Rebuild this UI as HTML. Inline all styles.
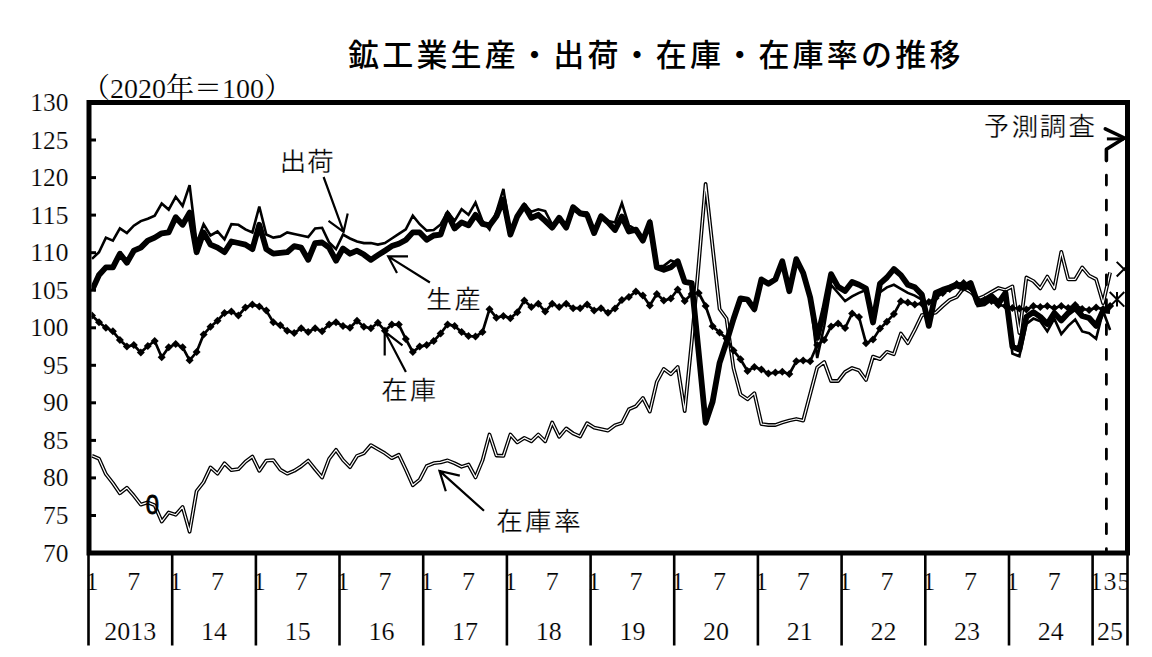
<!DOCTYPE html>
<html><head><meta charset="utf-8"><style>
html,body{margin:0;padding:0;background:#fff;}
body{width:1152px;height:657px;overflow:hidden;}
svg{display:block;}
.num{font-family:"Liberation Serif","Noto Serif CJK SC",serif;font-size:26px;fill:#000;stroke:#fff;stroke-width:0.2px;}
.unit{font-family:"Liberation Serif","Noto Serif CJK SC",serif;font-size:28px;fill:#000;}
.th{stroke:#fff;stroke-width:0.2px;}
.lab{font-family:"IPAGothic","Noto Sans CJK JP",sans-serif;font-size:27px;fill:#000;stroke:#fff;stroke-width:0.3px;}
.zero{font-family:"Liberation Sans",sans-serif;font-size:27px;fill:#000;stroke:#000;stroke-width:0.8px;}
.title{font-family:"Noto Sans CJK JP",sans-serif;font-size:31px;font-weight:500;letter-spacing:3.2px;fill:#000;}
</style></head><body>
<svg width="1152" height="657" viewBox="0 0 1152 657">
<text class="unit" x="82" y="98">（<tspan class="th">2020</tspan>年＝<tspan class="th">100</tspan>）</text>
<rect x="89" y="102.5" width="1038.5" height="450.5" fill="none" stroke="#000" stroke-width="5"/>
<line x1="91" y1="515.5" x2="96" y2="515.5" stroke="#000" stroke-width="3"/>
<line x1="91" y1="477.9" x2="96" y2="477.9" stroke="#000" stroke-width="3"/>
<line x1="91" y1="440.4" x2="96" y2="440.4" stroke="#000" stroke-width="3"/>
<line x1="91" y1="402.8" x2="96" y2="402.8" stroke="#000" stroke-width="3"/>
<line x1="91" y1="365.3" x2="96" y2="365.3" stroke="#000" stroke-width="3"/>
<line x1="91" y1="327.8" x2="96" y2="327.8" stroke="#000" stroke-width="3"/>
<line x1="91" y1="290.2" x2="96" y2="290.2" stroke="#000" stroke-width="3"/>
<line x1="91" y1="252.7" x2="96" y2="252.7" stroke="#000" stroke-width="3"/>
<line x1="91" y1="215.1" x2="96" y2="215.1" stroke="#000" stroke-width="3"/>
<line x1="91" y1="177.6" x2="96" y2="177.6" stroke="#000" stroke-width="3"/>
<line x1="91" y1="140.0" x2="96" y2="140.0" stroke="#000" stroke-width="3"/>
<text class="num" x="68.5" y="561.5" text-anchor="end" textLength="25.5" lengthAdjust="spacingAndGlyphs">70</text>
<text class="num" x="68.5" y="524.0" text-anchor="end" textLength="25.5" lengthAdjust="spacingAndGlyphs">75</text>
<text class="num" x="68.5" y="486.4" text-anchor="end" textLength="25.5" lengthAdjust="spacingAndGlyphs">80</text>
<text class="num" x="68.5" y="448.9" text-anchor="end" textLength="25.5" lengthAdjust="spacingAndGlyphs">85</text>
<text class="num" x="68.5" y="411.3" text-anchor="end" textLength="25.5" lengthAdjust="spacingAndGlyphs">90</text>
<text class="num" x="68.5" y="373.8" text-anchor="end" textLength="25.5" lengthAdjust="spacingAndGlyphs">95</text>
<text class="num" x="68.5" y="336.2" text-anchor="end" textLength="38.2" lengthAdjust="spacingAndGlyphs">100</text>
<text class="num" x="68.5" y="298.7" text-anchor="end" textLength="38.2" lengthAdjust="spacingAndGlyphs">105</text>
<text class="num" x="68.5" y="261.2" text-anchor="end" textLength="38.2" lengthAdjust="spacingAndGlyphs">110</text>
<text class="num" x="68.5" y="223.6" text-anchor="end" textLength="38.2" lengthAdjust="spacingAndGlyphs">115</text>
<text class="num" x="68.5" y="186.1" text-anchor="end" textLength="38.2" lengthAdjust="spacingAndGlyphs">120</text>
<text class="num" x="68.5" y="148.5" text-anchor="end" textLength="38.2" lengthAdjust="spacingAndGlyphs">125</text>
<text class="num" x="68.5" y="111.0" text-anchor="end" textLength="38.2" lengthAdjust="spacingAndGlyphs">130</text>
<defs><clipPath id="ca"><rect x="0" y="555" width="1127.5" height="102"/></clipPath></defs><g clip-path="url(#ca)">
<text class="num" x="92.0" y="589.5" text-anchor="middle">1</text>
<text class="num" x="133.8" y="589.5" text-anchor="middle">7</text>
<text class="num" x="175.7" y="589.5" text-anchor="middle">1</text>
<text class="num" x="217.5" y="589.5" text-anchor="middle">7</text>
<text class="num" x="259.3" y="589.5" text-anchor="middle">1</text>
<text class="num" x="301.2" y="589.5" text-anchor="middle">7</text>
<text class="num" x="343.0" y="589.5" text-anchor="middle">1</text>
<text class="num" x="384.9" y="589.5" text-anchor="middle">7</text>
<text class="num" x="426.7" y="589.5" text-anchor="middle">1</text>
<text class="num" x="468.5" y="589.5" text-anchor="middle">7</text>
<text class="num" x="510.4" y="589.5" text-anchor="middle">1</text>
<text class="num" x="552.2" y="589.5" text-anchor="middle">7</text>
<text class="num" x="594.1" y="589.5" text-anchor="middle">1</text>
<text class="num" x="635.9" y="589.5" text-anchor="middle">7</text>
<text class="num" x="677.7" y="589.5" text-anchor="middle">1</text>
<text class="num" x="719.6" y="589.5" text-anchor="middle">7</text>
<text class="num" x="761.4" y="589.5" text-anchor="middle">1</text>
<text class="num" x="803.2" y="589.5" text-anchor="middle">7</text>
<text class="num" x="845.1" y="589.5" text-anchor="middle">1</text>
<text class="num" x="886.9" y="589.5" text-anchor="middle">7</text>
<text class="num" x="928.8" y="589.5" text-anchor="middle">1</text>
<text class="num" x="970.6" y="589.5" text-anchor="middle">7</text>
<text class="num" x="1012.4" y="589.5" text-anchor="middle">1</text>
<text class="num" x="1054.3" y="589.5" text-anchor="middle">7</text>
<text class="num" x="1096.1" y="589.5" text-anchor="middle">1</text>
<text class="num" x="1110.1" y="589.5" text-anchor="middle">3</text>
<text class="num" x="1124.0" y="589.5" text-anchor="middle">5</text>
<text class="num" x="130.3" y="639.5" text-anchor="middle">2013</text>
<text class="num" x="214.0" y="639.5" text-anchor="middle">14</text>
<text class="num" x="297.7" y="639.5" text-anchor="middle">15</text>
<text class="num" x="381.4" y="639.5" text-anchor="middle">16</text>
<text class="num" x="465.1" y="639.5" text-anchor="middle">17</text>
<text class="num" x="548.7" y="639.5" text-anchor="middle">18</text>
<text class="num" x="632.4" y="639.5" text-anchor="middle">19</text>
<text class="num" x="716.1" y="639.5" text-anchor="middle">20</text>
<text class="num" x="799.8" y="639.5" text-anchor="middle">21</text>
<text class="num" x="883.4" y="639.5" text-anchor="middle">22</text>
<text class="num" x="967.1" y="639.5" text-anchor="middle">23</text>
<text class="num" x="1050.8" y="639.5" text-anchor="middle">24</text>
<text class="num" x="1110.1" y="639.5" text-anchor="middle">25</text>
</g>
<line x1="88.5" y1="553" x2="88.5" y2="645.5" stroke="#000" stroke-width="2.6"/>
<line x1="172.2" y1="553" x2="172.2" y2="645.5" stroke="#000" stroke-width="2.6"/>
<line x1="255.9" y1="553" x2="255.9" y2="645.5" stroke="#000" stroke-width="2.6"/>
<line x1="339.5" y1="553" x2="339.5" y2="645.5" stroke="#000" stroke-width="2.6"/>
<line x1="423.2" y1="553" x2="423.2" y2="645.5" stroke="#000" stroke-width="2.6"/>
<line x1="506.9" y1="553" x2="506.9" y2="645.5" stroke="#000" stroke-width="2.6"/>
<line x1="590.6" y1="553" x2="590.6" y2="645.5" stroke="#000" stroke-width="2.6"/>
<line x1="674.2" y1="553" x2="674.2" y2="645.5" stroke="#000" stroke-width="2.6"/>
<line x1="757.9" y1="553" x2="757.9" y2="645.5" stroke="#000" stroke-width="2.6"/>
<line x1="841.6" y1="553" x2="841.6" y2="645.5" stroke="#000" stroke-width="2.6"/>
<line x1="925.3" y1="553" x2="925.3" y2="645.5" stroke="#000" stroke-width="2.6"/>
<line x1="1009.0" y1="553" x2="1009.0" y2="645.5" stroke="#000" stroke-width="2.6"/>
<line x1="1092.6" y1="553" x2="1092.6" y2="645.5" stroke="#000" stroke-width="2.6"/>
<line x1="1127.5" y1="553" x2="1127.5" y2="645.5" stroke="#000" stroke-width="2.6"/>
<defs><clipPath id="pa"><rect x="91.5" y="105" width="1033.5" height="445.5"/></clipPath></defs><g clip-path="url(#pa)">
<polyline points="92.0,455.7 99.0,458.8 105.9,474.2 112.9,483.2 119.9,493.3 126.9,487.7 133.8,495.6 140.8,504.6 147.8,502.4 154.7,505.3 161.7,521.6 168.7,512.5 175.7,514.8 182.6,506.9 189.6,531.7 196.6,491.1 203.6,482.1 210.5,467.4 217.5,473.7 224.5,463.3 231.4,470.1 238.4,469.2 245.4,461.8 252.4,456.6 259.3,470.8 266.3,460.6 273.3,460.2 280.3,469.7 287.2,473.7 294.2,470.8 301.2,466.3 308.2,460.6 315.1,469.2 322.1,477.5 329.1,458.8 336.0,449.8 343.0,460.0 350.0,467.2 357.0,455.9 363.9,453.2 370.9,445.1 377.9,449.2 384.9,453.2 391.8,458.2 398.8,454.8 405.8,469.5 412.8,485.3 419.7,479.6 426.7,466.1 433.7,463.2 440.6,462.3 447.6,460.4 454.6,463.2 461.6,466.8 468.5,464.5 475.5,477.4 482.5,460.4 489.5,434.5 496.4,455.5 503.4,455.9 510.4,434.5 517.3,442.4 524.3,437.9 531.3,441.3 538.3,434.5 545.2,441.3 552.2,422.5 559.2,436.8 566.2,428.4 573.1,433.4 580.1,436.5 587.1,423.2 594.1,427.6 601.0,429.1 608.0,430.6 615.0,425.3 621.9,423.0 628.9,409.3 635.9,406.2 642.9,397.9 649.8,411.6 656.8,381.9 663.8,368.9 670.8,374.3 677.7,367.0 684.7,411.0 691.7,342.0 698.7,264.0 705.6,184.0 712.6,247.0 719.6,309.0 726.5,318.5 733.5,368.0 740.5,394.5 747.5,399.3 754.4,393.2 761.4,424.0 768.4,425.0 775.4,425.0 782.3,422.5 789.3,420.5 796.3,419.0 803.2,420.6 810.2,394.0 817.2,367.4 824.2,362.0 831.1,381.0 838.1,381.0 845.1,372.0 852.1,368.0 859.0,370.4 866.0,380.0 873.0,356.6 880.0,359.1 886.9,351.8 893.9,354.2 900.9,333.5 907.8,343.2 914.8,329.9 921.8,315.2 928.8,314.0 935.7,312.6 942.7,306.0 949.7,300.0 956.7,297.0 963.6,288.0 970.6,292.0 977.6,299.0 984.6,296.0 991.5,292.0 998.5,288.0 1005.5,290.0 1012.4,286.4 1019.4,333.0 1026.4,277.5 1033.4,281.1 1040.3,288.4 1047.3,276.6 1054.3,288.4 1061.3,251.9 1068.2,279.3 1075.2,279.3 1082.2,267.4 1089.1,275.6 1096.1,279.3 1103.1,303.1 1110.1,272.5" fill="none" stroke="#000" stroke-width="3.8" stroke-linejoin="round"/>
<polyline points="92.0,455.7 99.0,458.8 105.9,474.2 112.9,483.2 119.9,493.3 126.9,487.7 133.8,495.6 140.8,504.6 147.8,502.4 154.7,505.3 161.7,521.6 168.7,512.5 175.7,514.8 182.6,506.9 189.6,531.7 196.6,491.1 203.6,482.1 210.5,467.4 217.5,473.7 224.5,463.3 231.4,470.1 238.4,469.2 245.4,461.8 252.4,456.6 259.3,470.8 266.3,460.6 273.3,460.2 280.3,469.7 287.2,473.7 294.2,470.8 301.2,466.3 308.2,460.6 315.1,469.2 322.1,477.5 329.1,458.8 336.0,449.8 343.0,460.0 350.0,467.2 357.0,455.9 363.9,453.2 370.9,445.1 377.9,449.2 384.9,453.2 391.8,458.2 398.8,454.8 405.8,469.5 412.8,485.3 419.7,479.6 426.7,466.1 433.7,463.2 440.6,462.3 447.6,460.4 454.6,463.2 461.6,466.8 468.5,464.5 475.5,477.4 482.5,460.4 489.5,434.5 496.4,455.5 503.4,455.9 510.4,434.5 517.3,442.4 524.3,437.9 531.3,441.3 538.3,434.5 545.2,441.3 552.2,422.5 559.2,436.8 566.2,428.4 573.1,433.4 580.1,436.5 587.1,423.2 594.1,427.6 601.0,429.1 608.0,430.6 615.0,425.3 621.9,423.0 628.9,409.3 635.9,406.2 642.9,397.9 649.8,411.6 656.8,381.9 663.8,368.9 670.8,374.3 677.7,367.0 684.7,411.0 691.7,342.0 698.7,264.0 705.6,184.0 712.6,247.0 719.6,309.0 726.5,318.5 733.5,368.0 740.5,394.5 747.5,399.3 754.4,393.2 761.4,424.0 768.4,425.0 775.4,425.0 782.3,422.5 789.3,420.5 796.3,419.0 803.2,420.6 810.2,394.0 817.2,367.4 824.2,362.0 831.1,381.0 838.1,381.0 845.1,372.0 852.1,368.0 859.0,370.4 866.0,380.0 873.0,356.6 880.0,359.1 886.9,351.8 893.9,354.2 900.9,333.5 907.8,343.2 914.8,329.9 921.8,315.2 928.8,314.0 935.7,312.6 942.7,306.0 949.7,300.0 956.7,297.0 963.6,288.0 970.6,292.0 977.6,299.0 984.6,296.0 991.5,292.0 998.5,288.0 1005.5,290.0 1012.4,286.4 1019.4,333.0 1026.4,277.5 1033.4,281.1 1040.3,288.4 1047.3,276.6 1054.3,288.4 1061.3,251.9 1068.2,279.3 1075.2,279.3 1082.2,267.4 1089.1,275.6 1096.1,279.3 1103.1,303.1 1110.1,272.5" fill="none" stroke="#fff" stroke-width="1.2" stroke-linejoin="round"/>
<polyline points="92.0,315.5 99.0,322.2 105.9,327.7 112.9,331.3 119.9,339.9 126.9,346.6 133.8,345.0 140.8,352.6 147.8,346.0 154.7,341.0 161.7,357.2 168.7,347.2 175.7,344.1 182.6,347.2 189.6,360.3 196.6,352.0 203.6,334.4 210.5,326.8 217.5,320.7 224.5,313.0 231.4,311.6 238.4,315.5 245.4,307.6 252.4,304.6 259.3,306.4 266.3,310.6 273.3,322.2 280.3,325.3 287.2,330.7 294.2,332.9 301.2,328.3 308.2,332.0 315.1,328.3 322.1,331.3 329.1,324.6 336.0,322.2 343.0,325.9 350.0,327.7 357.0,320.7 363.9,326.8 370.9,328.3 377.9,322.8 384.9,330.7 391.8,324.6 398.8,324.6 405.8,339.0 412.8,352.0 419.7,346.6 426.7,345.1 433.7,341.1 440.6,333.5 447.6,324.4 454.6,325.9 461.6,332.0 468.5,336.0 475.5,336.6 482.5,332.0 489.5,309.2 496.4,317.7 503.4,315.9 510.4,318.3 517.3,312.2 524.3,300.6 531.3,307.1 538.3,303.7 545.2,311.6 552.2,303.7 559.2,307.1 566.2,303.7 573.1,308.2 580.1,308.2 587.1,304.4 594.1,310.5 601.0,308.2 608.0,312.8 615.0,308.6 621.9,300.0 628.9,297.0 635.9,291.5 642.9,295.5 649.8,305.5 656.8,294.0 663.8,300.6 670.8,298.5 677.7,289.5 684.7,301.0 691.7,294.0 698.7,293.0 705.6,306.0 712.6,326.3 719.6,332.4 726.5,338.5 733.5,350.6 740.5,359.2 747.5,371.0 754.4,367.0 761.4,369.5 768.4,373.5 775.4,372.6 782.3,371.8 789.3,374.0 796.3,361.3 803.2,360.5 810.2,361.3 817.2,345.0 824.2,340.0 831.1,326.4 838.1,323.4 845.1,328.0 852.1,313.5 859.0,317.0 866.0,343.2 873.0,339.6 880.0,328.6 886.9,321.7 893.9,314.1 900.9,301.3 907.8,302.6 914.8,304.6 921.8,303.5 928.8,302.0 935.7,298.0 942.7,293.0 949.7,289.0 956.7,284.0 963.6,283.0 970.6,288.0 977.6,300.0 984.6,300.0 991.5,301.0 998.5,305.0 1005.5,306.0 1012.4,308.0 1019.4,308.5 1026.4,309.5 1033.4,306.0 1040.3,307.0 1047.3,306.0 1054.3,308.0 1061.3,306.0 1068.2,308.0 1075.2,304.9 1082.2,309.0 1089.1,310.0 1096.1,307.6 1103.1,309.0 1110.1,306.0" fill="none" stroke="#000" stroke-width="2.7" stroke-linejoin="round"/>
<path d="M92.0 311.5L96.0 315.5L92.0 319.5L88.0 315.5Z"/>
<path d="M99.0 318.2L103.0 322.2L99.0 326.2L95.0 322.2Z"/>
<path d="M105.9 323.7L109.9 327.7L105.9 331.7L101.9 327.7Z"/>
<path d="M112.9 327.3L116.9 331.3L112.9 335.3L108.9 331.3Z"/>
<path d="M119.9 335.9L123.9 339.9L119.9 343.9L115.9 339.9Z"/>
<path d="M126.9 342.6L130.9 346.6L126.9 350.6L122.9 346.6Z"/>
<path d="M133.8 341.0L137.8 345.0L133.8 349.0L129.8 345.0Z"/>
<path d="M140.8 348.6L144.8 352.6L140.8 356.6L136.8 352.6Z"/>
<path d="M147.8 342.0L151.8 346.0L147.8 350.0L143.8 346.0Z"/>
<path d="M154.7 337.0L158.7 341.0L154.7 345.0L150.7 341.0Z"/>
<path d="M161.7 353.2L165.7 357.2L161.7 361.2L157.7 357.2Z"/>
<path d="M168.7 343.2L172.7 347.2L168.7 351.2L164.7 347.2Z"/>
<path d="M175.7 340.1L179.7 344.1L175.7 348.1L171.7 344.1Z"/>
<path d="M182.6 343.2L186.6 347.2L182.6 351.2L178.6 347.2Z"/>
<path d="M189.6 356.3L193.6 360.3L189.6 364.3L185.6 360.3Z"/>
<path d="M196.6 348.0L200.6 352.0L196.6 356.0L192.6 352.0Z"/>
<path d="M203.6 330.4L207.6 334.4L203.6 338.4L199.6 334.4Z"/>
<path d="M210.5 322.8L214.5 326.8L210.5 330.8L206.5 326.8Z"/>
<path d="M217.5 316.7L221.5 320.7L217.5 324.7L213.5 320.7Z"/>
<path d="M224.5 309.0L228.5 313.0L224.5 317.0L220.5 313.0Z"/>
<path d="M231.4 307.6L235.4 311.6L231.4 315.6L227.4 311.6Z"/>
<path d="M238.4 311.5L242.4 315.5L238.4 319.5L234.4 315.5Z"/>
<path d="M245.4 303.6L249.4 307.6L245.4 311.6L241.4 307.6Z"/>
<path d="M252.4 300.6L256.4 304.6L252.4 308.6L248.4 304.6Z"/>
<path d="M259.3 302.4L263.3 306.4L259.3 310.4L255.3 306.4Z"/>
<path d="M266.3 306.6L270.3 310.6L266.3 314.6L262.3 310.6Z"/>
<path d="M273.3 318.2L277.3 322.2L273.3 326.2L269.3 322.2Z"/>
<path d="M280.3 321.3L284.3 325.3L280.3 329.3L276.3 325.3Z"/>
<path d="M287.2 326.7L291.2 330.7L287.2 334.7L283.2 330.7Z"/>
<path d="M294.2 328.9L298.2 332.9L294.2 336.9L290.2 332.9Z"/>
<path d="M301.2 324.3L305.2 328.3L301.2 332.3L297.2 328.3Z"/>
<path d="M308.2 328.0L312.2 332.0L308.2 336.0L304.2 332.0Z"/>
<path d="M315.1 324.3L319.1 328.3L315.1 332.3L311.1 328.3Z"/>
<path d="M322.1 327.3L326.1 331.3L322.1 335.3L318.1 331.3Z"/>
<path d="M329.1 320.6L333.1 324.6L329.1 328.6L325.1 324.6Z"/>
<path d="M336.0 318.2L340.0 322.2L336.0 326.2L332.0 322.2Z"/>
<path d="M343.0 321.9L347.0 325.9L343.0 329.9L339.0 325.9Z"/>
<path d="M350.0 323.7L354.0 327.7L350.0 331.7L346.0 327.7Z"/>
<path d="M357.0 316.7L361.0 320.7L357.0 324.7L353.0 320.7Z"/>
<path d="M363.9 322.8L367.9 326.8L363.9 330.8L359.9 326.8Z"/>
<path d="M370.9 324.3L374.9 328.3L370.9 332.3L366.9 328.3Z"/>
<path d="M377.9 318.8L381.9 322.8L377.9 326.8L373.9 322.8Z"/>
<path d="M384.9 326.7L388.9 330.7L384.9 334.7L380.9 330.7Z"/>
<path d="M391.8 320.6L395.8 324.6L391.8 328.6L387.8 324.6Z"/>
<path d="M398.8 320.6L402.8 324.6L398.8 328.6L394.8 324.6Z"/>
<path d="M405.8 335.0L409.8 339.0L405.8 343.0L401.8 339.0Z"/>
<path d="M412.8 348.0L416.8 352.0L412.8 356.0L408.8 352.0Z"/>
<path d="M419.7 342.6L423.7 346.6L419.7 350.6L415.7 346.6Z"/>
<path d="M426.7 341.1L430.7 345.1L426.7 349.1L422.7 345.1Z"/>
<path d="M433.7 337.1L437.7 341.1L433.7 345.1L429.7 341.1Z"/>
<path d="M440.6 329.5L444.6 333.5L440.6 337.5L436.6 333.5Z"/>
<path d="M447.6 320.4L451.6 324.4L447.6 328.4L443.6 324.4Z"/>
<path d="M454.6 321.9L458.6 325.9L454.6 329.9L450.6 325.9Z"/>
<path d="M461.6 328.0L465.6 332.0L461.6 336.0L457.6 332.0Z"/>
<path d="M468.5 332.0L472.5 336.0L468.5 340.0L464.5 336.0Z"/>
<path d="M475.5 332.6L479.5 336.6L475.5 340.6L471.5 336.6Z"/>
<path d="M482.5 328.0L486.5 332.0L482.5 336.0L478.5 332.0Z"/>
<path d="M489.5 305.2L493.5 309.2L489.5 313.2L485.5 309.2Z"/>
<path d="M496.4 313.7L500.4 317.7L496.4 321.7L492.4 317.7Z"/>
<path d="M503.4 311.9L507.4 315.9L503.4 319.9L499.4 315.9Z"/>
<path d="M510.4 314.3L514.4 318.3L510.4 322.3L506.4 318.3Z"/>
<path d="M517.3 308.2L521.3 312.2L517.3 316.2L513.3 312.2Z"/>
<path d="M524.3 296.6L528.3 300.6L524.3 304.6L520.3 300.6Z"/>
<path d="M531.3 303.1L535.3 307.1L531.3 311.1L527.3 307.1Z"/>
<path d="M538.3 299.7L542.3 303.7L538.3 307.7L534.3 303.7Z"/>
<path d="M545.2 307.6L549.2 311.6L545.2 315.6L541.2 311.6Z"/>
<path d="M552.2 299.7L556.2 303.7L552.2 307.7L548.2 303.7Z"/>
<path d="M559.2 303.1L563.2 307.1L559.2 311.1L555.2 307.1Z"/>
<path d="M566.2 299.7L570.2 303.7L566.2 307.7L562.2 303.7Z"/>
<path d="M573.1 304.2L577.1 308.2L573.1 312.2L569.1 308.2Z"/>
<path d="M580.1 304.2L584.1 308.2L580.1 312.2L576.1 308.2Z"/>
<path d="M587.1 300.4L591.1 304.4L587.1 308.4L583.1 304.4Z"/>
<path d="M594.1 306.5L598.1 310.5L594.1 314.5L590.1 310.5Z"/>
<path d="M601.0 304.2L605.0 308.2L601.0 312.2L597.0 308.2Z"/>
<path d="M608.0 308.8L612.0 312.8L608.0 316.8L604.0 312.8Z"/>
<path d="M615.0 304.6L619.0 308.6L615.0 312.6L611.0 308.6Z"/>
<path d="M621.9 296.0L625.9 300.0L621.9 304.0L617.9 300.0Z"/>
<path d="M628.9 293.0L632.9 297.0L628.9 301.0L624.9 297.0Z"/>
<path d="M635.9 287.5L639.9 291.5L635.9 295.5L631.9 291.5Z"/>
<path d="M642.9 291.5L646.9 295.5L642.9 299.5L638.9 295.5Z"/>
<path d="M649.8 301.5L653.8 305.5L649.8 309.5L645.8 305.5Z"/>
<path d="M656.8 290.0L660.8 294.0L656.8 298.0L652.8 294.0Z"/>
<path d="M663.8 296.6L667.8 300.6L663.8 304.6L659.8 300.6Z"/>
<path d="M670.8 294.5L674.8 298.5L670.8 302.5L666.8 298.5Z"/>
<path d="M677.7 285.5L681.7 289.5L677.7 293.5L673.7 289.5Z"/>
<path d="M684.7 297.0L688.7 301.0L684.7 305.0L680.7 301.0Z"/>
<path d="M691.7 290.0L695.7 294.0L691.7 298.0L687.7 294.0Z"/>
<path d="M698.7 289.0L702.7 293.0L698.7 297.0L694.7 293.0Z"/>
<path d="M705.6 302.0L709.6 306.0L705.6 310.0L701.6 306.0Z"/>
<path d="M712.6 322.3L716.6 326.3L712.6 330.3L708.6 326.3Z"/>
<path d="M719.6 328.4L723.6 332.4L719.6 336.4L715.6 332.4Z"/>
<path d="M726.5 334.5L730.5 338.5L726.5 342.5L722.5 338.5Z"/>
<path d="M733.5 346.6L737.5 350.6L733.5 354.6L729.5 350.6Z"/>
<path d="M740.5 355.2L744.5 359.2L740.5 363.2L736.5 359.2Z"/>
<path d="M747.5 367.0L751.5 371.0L747.5 375.0L743.5 371.0Z"/>
<path d="M754.4 363.0L758.4 367.0L754.4 371.0L750.4 367.0Z"/>
<path d="M761.4 365.5L765.4 369.5L761.4 373.5L757.4 369.5Z"/>
<path d="M768.4 369.5L772.4 373.5L768.4 377.5L764.4 373.5Z"/>
<path d="M775.4 368.6L779.4 372.6L775.4 376.6L771.4 372.6Z"/>
<path d="M782.3 367.8L786.3 371.8L782.3 375.8L778.3 371.8Z"/>
<path d="M789.3 370.0L793.3 374.0L789.3 378.0L785.3 374.0Z"/>
<path d="M796.3 357.3L800.3 361.3L796.3 365.3L792.3 361.3Z"/>
<path d="M803.2 356.5L807.2 360.5L803.2 364.5L799.2 360.5Z"/>
<path d="M810.2 357.3L814.2 361.3L810.2 365.3L806.2 361.3Z"/>
<path d="M817.2 341.0L821.2 345.0L817.2 349.0L813.2 345.0Z"/>
<path d="M824.2 336.0L828.2 340.0L824.2 344.0L820.2 340.0Z"/>
<path d="M831.1 322.4L835.1 326.4L831.1 330.4L827.1 326.4Z"/>
<path d="M838.1 319.4L842.1 323.4L838.1 327.4L834.1 323.4Z"/>
<path d="M845.1 324.0L849.1 328.0L845.1 332.0L841.1 328.0Z"/>
<path d="M852.1 309.5L856.1 313.5L852.1 317.5L848.1 313.5Z"/>
<path d="M859.0 313.0L863.0 317.0L859.0 321.0L855.0 317.0Z"/>
<path d="M866.0 339.2L870.0 343.2L866.0 347.2L862.0 343.2Z"/>
<path d="M873.0 335.6L877.0 339.6L873.0 343.6L869.0 339.6Z"/>
<path d="M880.0 324.6L884.0 328.6L880.0 332.6L876.0 328.6Z"/>
<path d="M886.9 317.7L890.9 321.7L886.9 325.7L882.9 321.7Z"/>
<path d="M893.9 310.1L897.9 314.1L893.9 318.1L889.9 314.1Z"/>
<path d="M900.9 297.3L904.9 301.3L900.9 305.3L896.9 301.3Z"/>
<path d="M907.8 298.6L911.8 302.6L907.8 306.6L903.8 302.6Z"/>
<path d="M914.8 300.6L918.8 304.6L914.8 308.6L910.8 304.6Z"/>
<path d="M921.8 299.5L925.8 303.5L921.8 307.5L917.8 303.5Z"/>
<path d="M928.8 298.0L932.8 302.0L928.8 306.0L924.8 302.0Z"/>
<path d="M935.7 294.0L939.7 298.0L935.7 302.0L931.7 298.0Z"/>
<path d="M942.7 289.0L946.7 293.0L942.7 297.0L938.7 293.0Z"/>
<path d="M949.7 285.0L953.7 289.0L949.7 293.0L945.7 289.0Z"/>
<path d="M956.7 280.0L960.7 284.0L956.7 288.0L952.7 284.0Z"/>
<path d="M963.6 279.0L967.6 283.0L963.6 287.0L959.6 283.0Z"/>
<path d="M970.6 284.0L974.6 288.0L970.6 292.0L966.6 288.0Z"/>
<path d="M977.6 296.0L981.6 300.0L977.6 304.0L973.6 300.0Z"/>
<path d="M984.6 296.0L988.6 300.0L984.6 304.0L980.6 300.0Z"/>
<path d="M991.5 297.0L995.5 301.0L991.5 305.0L987.5 301.0Z"/>
<path d="M998.5 301.0L1002.5 305.0L998.5 309.0L994.5 305.0Z"/>
<path d="M1005.5 302.0L1009.5 306.0L1005.5 310.0L1001.5 306.0Z"/>
<path d="M1012.4 304.0L1016.4 308.0L1012.4 312.0L1008.4 308.0Z"/>
<path d="M1019.4 304.5L1023.4 308.5L1019.4 312.5L1015.4 308.5Z"/>
<path d="M1026.4 305.5L1030.4 309.5L1026.4 313.5L1022.4 309.5Z"/>
<path d="M1033.4 302.0L1037.4 306.0L1033.4 310.0L1029.4 306.0Z"/>
<path d="M1040.3 303.0L1044.3 307.0L1040.3 311.0L1036.3 307.0Z"/>
<path d="M1047.3 302.0L1051.3 306.0L1047.3 310.0L1043.3 306.0Z"/>
<path d="M1054.3 304.0L1058.3 308.0L1054.3 312.0L1050.3 308.0Z"/>
<path d="M1061.3 302.0L1065.3 306.0L1061.3 310.0L1057.3 306.0Z"/>
<path d="M1068.2 304.0L1072.2 308.0L1068.2 312.0L1064.2 308.0Z"/>
<path d="M1075.2 300.9L1079.2 304.9L1075.2 308.9L1071.2 304.9Z"/>
<path d="M1082.2 305.0L1086.2 309.0L1082.2 313.0L1078.2 309.0Z"/>
<path d="M1089.1 306.0L1093.1 310.0L1089.1 314.0L1085.1 310.0Z"/>
<path d="M1096.1 303.6L1100.1 307.6L1096.1 311.6L1092.1 307.6Z"/>
<path d="M1103.1 305.0L1107.1 309.0L1103.1 313.0L1099.1 309.0Z"/>
<path d="M1110.1 302.0L1114.1 306.0L1110.1 310.0L1106.1 306.0Z"/>
<polyline points="92.0,258.9 99.0,252.2 105.9,237.6 112.9,240.6 119.9,228.4 126.9,233.0 133.8,225.7 140.8,221.1 147.8,218.7 154.7,215.7 161.7,203.5 168.7,209.6 175.7,196.8 182.6,205.9 189.6,185.2 196.6,243.1 203.6,224.2 210.5,235.4 217.5,231.5 224.5,239.4 231.4,224.2 238.4,224.8 245.4,229.4 252.4,232.4 259.3,206.5 266.3,234.5 273.3,237.6 280.3,236.4 287.2,232.4 294.2,233.9 301.2,235.4 308.2,237.0 315.1,228.4 322.1,227.8 329.1,242.5 336.0,249.1 343.0,234.5 350.0,238.5 357.0,241.5 363.9,243.1 370.9,243.1 377.9,244.6 384.9,243.1 391.8,238.5 398.8,233.9 405.8,229.4 412.8,215.7 419.7,224.2 426.7,230.6 433.7,230.0 440.6,224.5 447.6,211.8 454.6,220.9 461.6,209.3 468.5,214.8 475.5,202.6 482.5,220.9 489.5,229.4 496.4,211.8 503.4,188.9 510.4,232.5 517.3,218.4 524.3,204.1 531.3,211.8 538.3,209.3 545.2,211.1 552.2,224.5 559.2,218.4 566.2,225.4 573.1,206.3 580.1,211.8 587.1,212.4 594.1,230.0 601.0,215.4 608.0,220.9 615.0,222.4 621.9,203.0 628.9,225.4 635.9,229.4 642.9,237.6 649.8,222.4 656.8,266.5 663.8,265.9 670.8,260.5 677.7,263.0 684.7,282.0 691.7,285.0 698.7,355.0 705.6,425.0 712.6,404.0 719.6,364.0 726.5,344.0 733.5,321.0 740.5,300.0 747.5,301.0 754.4,310.0 761.4,280.0 768.4,284.0 775.4,280.0 782.3,263.0 789.3,290.0 796.3,261.0 803.2,275.0 810.2,298.0 817.2,358.0 824.2,326.0 831.1,285.0 838.1,293.0 845.1,301.0 852.1,296.3 859.0,292.9 866.0,290.1 873.0,315.2 880.0,292.2 886.9,287.4 893.9,284.8 900.9,288.8 907.8,292.9 914.8,295.6 921.8,299.7 928.8,318.0 935.7,296.0 942.7,292.0 949.7,290.0 956.7,287.0 963.6,290.0 970.6,286.0 977.6,306.0 984.6,305.0 991.5,300.0 998.5,306.0 1005.5,296.0 1012.4,353.6 1019.4,356.3 1026.4,324.0 1033.4,318.6 1040.3,321.3 1047.3,331.4 1054.3,318.6 1061.3,334.1 1068.2,325.9 1075.2,319.5 1082.2,331.4 1089.1,333.2 1096.1,338.7 1103.1,311.0 1110.1,330.0" fill="none" stroke="#000" stroke-width="2.6" stroke-linejoin="miter" stroke-miterlimit="4"/>
<polyline points="92.0,290.2 99.0,275.0 105.9,267.4 112.9,267.4 119.9,253.7 126.9,262.8 133.8,250.7 140.8,247.6 147.8,240.6 154.7,237.6 161.7,233.3 168.7,232.4 175.7,217.2 182.6,224.8 189.6,212.6 196.6,252.2 203.6,232.4 210.5,244.6 217.5,247.6 224.5,252.2 231.4,241.5 238.4,243.0 245.4,244.6 252.4,249.1 259.3,224.8 266.3,249.1 273.3,253.7 280.3,252.8 287.2,252.2 294.2,246.1 301.2,247.6 308.2,259.8 315.1,243.1 322.1,242.5 329.1,247.6 336.0,260.7 343.0,248.5 350.0,253.7 357.0,250.7 363.9,254.6 370.9,259.8 377.9,255.2 384.9,250.7 391.8,246.1 398.8,243.7 405.8,240.0 412.8,232.4 419.7,232.4 426.7,239.8 433.7,235.5 440.6,234.6 447.6,214.2 454.6,228.5 461.6,222.4 468.5,225.4 475.5,214.8 482.5,223.9 489.5,225.4 496.4,216.3 503.4,199.6 510.4,234.6 517.3,216.3 524.3,205.7 531.3,217.8 538.3,214.8 545.2,220.9 552.2,227.6 559.2,217.8 566.2,227.6 573.1,207.2 580.1,213.3 587.1,214.8 594.1,233.1 601.0,216.3 608.0,222.4 615.0,230.0 621.9,216.5 628.9,231.5 635.9,229.6 642.9,240.6 649.8,222.3 656.8,267.3 663.8,269.8 670.8,267.3 677.7,261.2 684.7,281.9 691.7,283.1 698.7,352.8 705.6,422.5 712.6,401.8 719.6,362.8 726.5,342.1 733.5,319.0 740.5,298.3 747.5,299.5 754.4,309.2 761.4,279.4 768.4,283.7 775.4,279.4 782.3,261.3 789.3,291.2 796.3,259.2 803.2,273.0 810.2,297.5 817.2,338.0 824.2,309.0 831.1,274.1 838.1,286.8 845.1,291.0 852.1,282.0 859.0,284.7 866.0,288.5 873.0,322.5 880.0,283.6 886.9,277.5 893.9,269.0 900.9,275.1 907.8,284.8 914.8,287.2 921.8,294.5 928.8,325.8 935.7,292.9 942.7,289.8 949.7,287.4 956.7,284.4 963.6,287.2 970.6,283.0 977.6,303.0 984.6,301.8 991.5,296.0 998.5,303.0 1005.5,293.0 1012.4,346.7 1019.4,349.7 1026.4,316.8 1033.4,312.2 1040.3,316.8 1047.3,324.1 1054.3,313.1 1061.3,320.4 1068.2,313.1 1075.2,308.0 1082.2,316.0 1089.1,318.0 1096.1,325.9 1103.1,310.4 1110.1,311.0" fill="none" stroke="#000" stroke-width="5.8" stroke-linejoin="round"/>
<path d="M1109.7 292.0L1124.3 306.6M1109.7 306.6L1124.3 292.0M1117.0 292.0L1117.0 306.6" stroke="#000" stroke-width="2" fill="none"/>
<path d="M1116.7 261.9L1131.3 276.5M1116.7 276.5L1131.3 261.9" stroke="#000" stroke-width="2" fill="none"/>
</g>
<line x1="1106.4" y1="175.2" x2="1106.4" y2="553" stroke="#000" stroke-width="2.8" stroke-linecap="round" stroke-dasharray="9.9,15"/>
<path d="M1105.3 128.8L1124.5 138L1106.4 149.3L1106.4 160.6" fill="none" stroke="#000" stroke-width="3.6" stroke-linecap="round" stroke-linejoin="round"/>
<line x1="1106.9" y1="138.9" x2="1124" y2="138.9" stroke="#000" stroke-width="3"/>
<path d="M323.6 177L343.6 231.8M328.5 220.8L343.6 231.8L347.7 213.4" stroke="#000" stroke-width="2.2" fill="none"/>
<path d="M429.9 282.5L388.2 256.4M408 256.4L388.2 256.4L397 272.9" stroke="#000" stroke-width="2.2" fill="none"/>
<path d="M405.9 372L384.7 331.6M384.7 355.6L384.7 331.6L402.5 345.3" stroke="#000" stroke-width="2.2" fill="none"/>
<path d="M484 510.8L439.5 470.9M459.8 475.6L439.5 470.9L445.8 491.3" stroke="#000" stroke-width="2.2" fill="none"/>
<text class="lab" x="279.5" y="171" letter-spacing="0.3">出荷</text>
<text class="lab" x="425.5" y="309" letter-spacing="1.5">生産</text>
<text class="lab" x="381" y="400" letter-spacing="1.8">在庫</text>
<text class="lab" x="496" y="530.5" letter-spacing="2">在庫率</text>
<text class="lab" x="983" y="136" letter-spacing="1.3">予測調査</text>
<text class="zero" x="0" y="0" transform="translate(145.8 513.5) scale(0.88 1)">0</text>
<text class="title" x="348" y="66">鉱工業生産・出荷・在庫・在庫率の推移</text>
</svg>
</body></html>
